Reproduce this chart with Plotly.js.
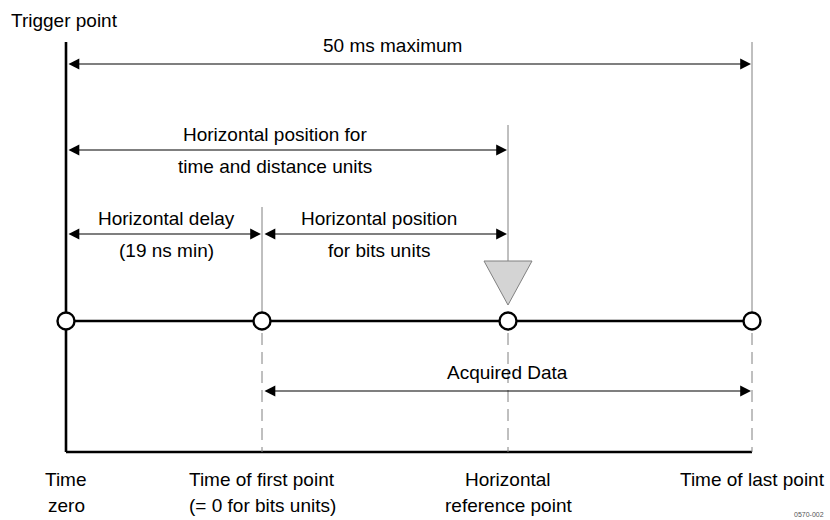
<!DOCTYPE html>
<html>
<head>
<meta charset="utf-8">
<script src="https://cdn.plot.ly/plotly-3.0.1.min.js"></script>
<style>html,body{margin:0;padding:0;background:#fff;}#chart{width:830px;height:520px;}</style>
</head>
<body>
<div id="chart"></div>
<script>
// Key time points along the acquisition (diagram x positions)
const pointNames = ['Time zero', 'Time of first point', 'Horizontal reference point', 'Time of last point'];
const pointX = [66, 262, 508, 752];
// Bottom labels (two lines each)
const labelLine1 = ['Time', 'Time of first point', 'Horizontal', 'Time of last point'];
const labelLine2 = ['zero', '(= 0 for bits units)', 'reference point', ''];
// Spans: start index, end index, text lines, level
const spanStart = [0, 0, 0, 1, 1];
const spanEnd   = [3, 2, 1, 2, 3];
const spanText1 = ['50 ms maximum', 'Horizontal position for', 'Horizontal delay', 'Horizontal position', 'Acquired Data'];
const spanText2 = ['', 'time and distance units', '(19 ns min)', 'for bits units', ''];
const spanY     = [64, 150, 234, 234, 391];

const FONT = '"Liberation Sans", Arial, sans-serif';
const FS = 19;
const timelineY = 321, baseY = 452, topY = 42;

const shapes = [];
const annotations = [];

// trigger (time zero) bold axis and baseline
shapes.push({type:'line', layer:'below', x0:pointX[0], x1:pointX[0], y0:topY, y1:baseY, line:{color:'#000', width:2.6}});
shapes.push({type:'line', layer:'below', x0:pointX[0], x1:pointX[3], y0:baseY, y1:baseY, line:{color:'#000', width:2.6}});
// gray verticals
const solidTop = [null, 207, 125, topY];
for (let i = 1; i < 4; i++) {
  const y1 = (i === 2) ? 261 : timelineY;
  shapes.push({type:'line', layer:'below', x0:pointX[i], x1:pointX[i], y0:solidTop[i], y1:y1, line:{color:'#808080', width:1}});
  shapes.push({type:'line', layer:'below', x0:pointX[i], x1:pointX[i], y0:timelineY + 12, y1:baseY, line:{color:'#808080', width:1, dash:'12px,7px'}});
}
// timeline
shapes.push({type:'line', layer:'below', x0:pointX[0], x1:pointX[3], y0:timelineY, y1:timelineY, line:{color:'#000', width:2.6}});
// reference marker triangle
const rx = pointX[2];
shapes.push({type:'path', layer:'below', path:`M ${rx-24} 261 L ${rx+24} 261 L ${rx} 305 Z`, fillcolor:'#d4d4d4', line:{color:'#808080', width:1}});

// span arrows and texts
for (let i = 0; i < spanStart.length; i++) {
  const xa = pointX[spanStart[i]], xb = pointX[spanEnd[i]];
  annotations.push({x:xb, y:spanY[i], ax:xa, ay:spanY[i], xref:'x', yref:'y', axref:'x', ayref:'y',
    text:'', showarrow:true, arrowhead:2, startarrowhead:2, arrowside:'end+start', arrowsize:1.8, startarrowsize:1.8,
    arrowwidth:1.2, arrowcolor:'#000', standoff:1, startstandoff:1});
  const cx = (i === 0) ? 392 : (xa + xb) / 2 + (i === 1 ? -12 : (i === 3 ? -6 : (i === 2 ? 2 : 0)));
  if (spanText2[i]) {
    annotations.push({x:cx, y:spanY[i] - 16, text:spanText1[i], showarrow:false, xref:'x', yref:'y', font:{family:FONT, size:FS, color:'#000'}});
    annotations.push({x:cx, y:spanY[i] + 16, text:spanText2[i], showarrow:false, xref:'x', yref:'y', font:{family:FONT, size:FS, color:'#000'}});
  } else {
    annotations.push({x:cx, y:spanY[i] - 19, text:spanText1[i], showarrow:false, xref:'x', yref:'y', font:{family:FONT, size:FS, color:'#000'}});
  }
}

// bottom labels
for (let i = 0; i < 4; i++) {
  annotations.push({x:pointX[i], y:479, text:labelLine1[i], showarrow:false, xref:'x', yref:'y', font:{family:FONT, size:FS, color:'#000'}});
  if (labelLine2[i]) annotations.push({x:pointX[i], y:505, text:labelLine2[i], showarrow:false, xref:'x', yref:'y', font:{family:FONT, size:FS, color:'#000'}});
}
annotations.push({x:9, y:20, text:'Trigger point', showarrow:false, xanchor:'left', xref:'x', yref:'y', font:{family:FONT, size:FS, color:'#000'}});
annotations.push({x:826, y:514, text:'0570-002', showarrow:false, xanchor:'right', xref:'x', yref:'y', font:{family:FONT, size:7, color:'#555'}});

const trace = {
  x: pointX, y: pointX.map(() => timelineY), text: pointNames, type:'scatter', mode:'markers',
  marker:{size:17, color:'#fff', line:{color:'#000', width:2.4}}, hoverinfo:'text', cliponaxis:false
};

const layout = {
  width:830, height:520, margin:{l:0, r:0, t:0, b:0},
  paper_bgcolor:'#fff', plot_bgcolor:'#fff', showlegend:false,
  xaxis:{range:[0,830], visible:false, fixedrange:true},
  yaxis:{range:[520,0], visible:false, fixedrange:true},
  shapes:shapes, annotations:annotations
};
Plotly.newPlot('chart', [trace], layout, {displayModeBar:false, staticPlot:true});
</script>
</body>
</html>
